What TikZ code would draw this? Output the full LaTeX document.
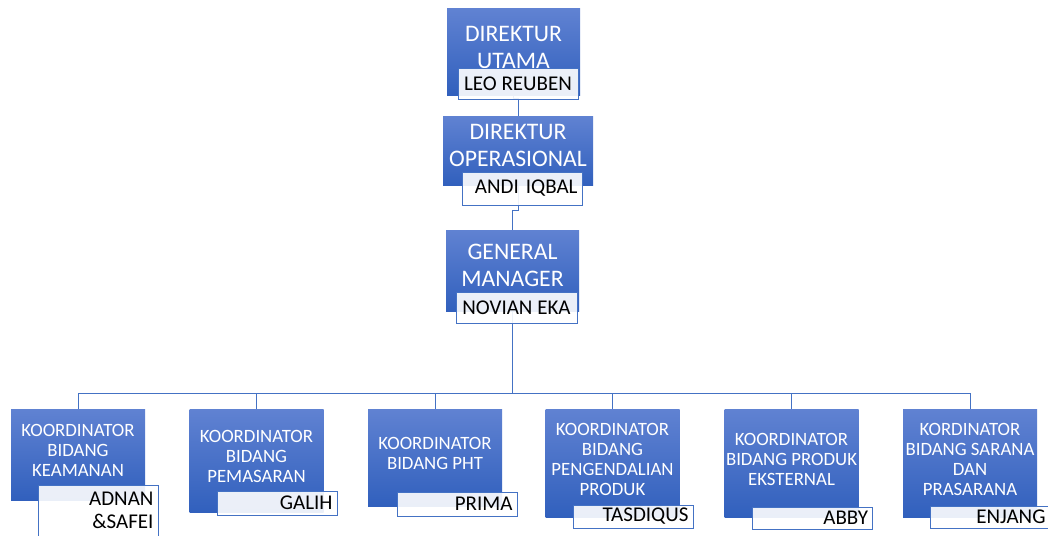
\documentclass[tikz,border=0pt]{standalone}
\usepackage{fontspec}
\setmainfont{Carlito}
\usetikzlibrary{
  positioning,
  backgrounds
}
\definecolor{unittop}{RGB}{96,130,210}
\definecolor{unitbottom}{RGB}{49,96,189}
\definecolor{linkblue}{RGB}{68,114,196}
\newcommand\leadfont{\fontsize{23.7}{27}\selectfont}
\newcommand\unitfont{\fontsize{18.8}{20}\selectfont}
\newcommand\personfont{\fontsize{21}{23}\selectfont}

\begin{document}
\begin{tikzpicture}[
      x=1pt,y=-1pt,
      lead/.style={
         rectangle,
         top color=unittop,
         bottom color=unitbottom,
         text=white,
         font=\leadfont,
         align=center,
         inner sep=0pt,
         text depth=10pt
      },
      unit/.style={
         lead,
         font=\unitfont,
         minimum width=134pt,
         text depth=8pt
      },
      person/.style={
         rectangle,
         draw=linkblue,
         line width=0.8pt,
         fill=white,fill opacity=0.9,text opacity=1,
         text=black,
         font=\personfont,
         minimum width=120pt,
         inner sep=0pt
      },
      member/.style={person, text width=111pt, inner xsep=4.5pt, align=right},
      link/.style={draw=linkblue, line width=0.9pt},
      hv path/.style={to path={-| (\tikztotarget)}},
    ]
    \path[use as bounding box] (0,0) rectangle (1048,535);
    \clip (0,0) rectangle (1048,535);
    % top of the chart
    \node (utama) [lead, minimum width=133pt, minimum height=86pt] at (513.5,52) {DIREKTUR\\UTAMA};
    \node (leo) [person, minimum height=31pt] at (518,83.5) {LEO REUBEN};
    \node (operasional) [lead, minimum width=150pt, minimum height=69pt] at (518,150.5) {DIREKTUR\\OPERASIONAL};
    \node (andi) [member, minimum height=33pt] at (522,188.5) {ANDI IQBAL};
    \node (gm) [lead, minimum width=133pt, minimum height=81pt] at (512.5,270.5) {GENERAL\\MANAGER};
    \node (novian) [person, minimum width=121pt, minimum height=31pt] at (516.5,307.5) {NOVIAN EKA};
    % koordinator row
    \node (keamanan) [unit, minimum height=91pt] at (78,454.5) {KOORDINATOR\\BIDANG\\KEAMANAN};
    \node (adnan) [member, minimum height=51pt] at (98,510.5) {ADNAN\\\&SAFEI};
    \node (pemasaran) [unit, minimum height=103pt] at (256.5,460.5) {KOORDINATOR\\BIDANG\\PEMASARAN};
    \node (galih) [member, minimum height=24pt] at (277,503) {GALIH};
    \node (pht) [unit, minimum height=97pt] at (435,457.5) {KOORDINATOR\\BIDANG PHT};
    \node (prima) [member, minimum height=24pt] at (457,504) {PRIMA};
    \node (pengendalian) [unit, minimum height=108pt] at (612.5,463) {KOORDINATOR\\BIDANG\\PENGENDALIAN\\PRODUK};
    \node (tasdiqus) [member, minimum height=23pt] at (633,516.5) {TASDIQUS};
    \node (eksternal) [unit, minimum height=108pt] at (791.5,463) {KOORDINATOR\\BIDANG PRODUK\\EKSTERNAL};
    \node (abby) [member, minimum height=22pt] at (812.5,518) {ABBY};
    \node (sarana) [unit, minimum height=108pt] at (970,463) {KORDINATOR\\BIDANG SARANA\\DAN\\PRASARANA};
    \node (enjang) [member, minimum height=22pt] at (990,517) {ENJANG};
    % connectors
    \begin{scope}[on background layer]
       \draw[link] (utama.south) -- ++(0,3) -| (operasional.north);
       \draw[link] (operasional.south) -- ++(0,25) -| (gm.north);
       \draw[link] (gm.south) -- ++(0,82) coordinate (bus);
       \draw[link] (bus) to[hv path] (keamanan.north);
       \draw[link] (bus) to[hv path] (pemasaran.north);
       \draw[link] (bus) to[hv path] (pht.north);
       \draw[link] (bus) to[hv path] (pengendalian.north);
       \draw[link] (bus) to[hv path] (eksternal.north);
       \draw[link] (bus) to[hv path] (sarana.north);
    \end{scope}
\end{tikzpicture}
\end{document}
